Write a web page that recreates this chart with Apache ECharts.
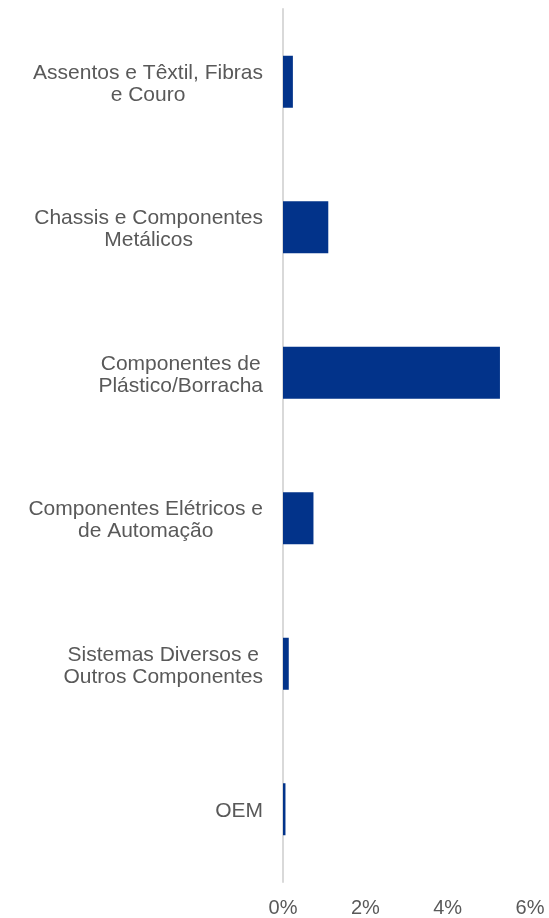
<!DOCTYPE html>
<html>
<head>
<meta charset="utf-8">
<script src="https://cdn.jsdelivr.net/npm/echarts@6/dist/echarts.min.js"></script>
<style>
  html, body { margin: 0; padding: 0; background: #fff; }
  #chart { width: 549px; height: 918px; }
</style>
</head>
<body>
<div id="chart"></div>
<script>
  // categories, top to bottom
  var categories = [
    'Assentos e Têxtil, Fibras\ne Couro',
    'Chassis e Componentes\nMetálicos',
    'Componentes de\nPlástico/Borracha',
    'Componentes Elétricos e\nde Automação',
    'Sistemas Diversos e\nOutros Componentes',
    'OEM'
  ];
  // values in %
  var values = [0.24, 1.10, 5.27, 0.74, 0.14, 0.06];
  var xTicks = { min: 0, max: 6, interval: 2 };

  var chart = echarts.init(document.getElementById('chart'));
  chart.setOption({
    animation: false,
    grid: { left: 283, right: 19, top: 9, bottom: 31, containLabel: false },
    xAxis: {
      type: 'value',
      min: xTicks.min,
      max: xTicks.max,
      interval: xTicks.interval,
      axisLine: { show: false },
      axisTick: { show: false },
      splitLine: { show: false },
      axisLabel: {
        formatter: '{value}%',
        color: '#595959',
        fontSize: 20,
        fontFamily: 'Liberation Sans, Arial, sans-serif',
        margin: 16
      }
    },
    yAxis: {
      type: 'category',
      inverse: true,
      data: categories,
      axisLine: { show: true, lineStyle: { color: '#d9d9d9', width: 2 } },
      axisTick: { show: false },
      axisLabel: {
        margin: 20,
        formatter: function (v) {
          return v.split('\n').map(function (l) { return '{c|' + l + '}'; }).join('\n');
        },
        rich: {
          c: {
            align: 'center',
            color: '#595959',
            fontSize: 21,
            lineHeight: 22,
            padding: [4, 0, 0, 0],
            fontFamily: 'Liberation Sans, Arial, sans-serif'
          }
        }
      }
    },
    series: [{
      type: 'bar',
      data: values,
      barWidth: 52,
      itemStyle: { color: '#02338a' }
    }]
  });
</script>
</body>
</html>
